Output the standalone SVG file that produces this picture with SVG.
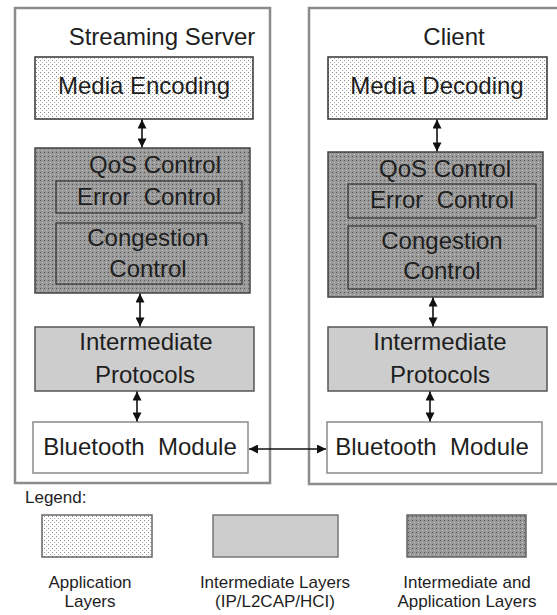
<svg xmlns="http://www.w3.org/2000/svg" width="557" height="615" viewBox="0 0 557 615">
<style>
.t{font-family:"Liberation Sans",Arial,sans-serif;fill:#1e1e1e;text-anchor:middle}
.big{font-size:24px}
.sm{font-size:17px}
.outer{fill:#fff;stroke:#8c8c8c;stroke-width:2.5}
.app{fill:url(#dotsLight);stroke:#333;stroke-width:1.5}
.qos{fill:url(#dotsDark);stroke:#444;stroke-width:1.5}
.inner{fill:none;stroke:#333;stroke-width:1.2}
.mid{fill:#cdcdcd;stroke:#555;stroke-width:1.5}
.bt{fill:#fff;stroke:#8a8a8a;stroke-width:1.5}
.con{stroke:#111;stroke-width:1.6;fill:none}
.v{marker-start:url(#ah);marker-end:url(#ah)}
</style>
<defs>
<pattern id="dotsLight" width="4" height="4" patternUnits="userSpaceOnUse">
<rect width="4" height="4" fill="#fff"/>
<rect x="0" y="0" width="1" height="1" fill="#888"/>
<rect x="2" y="2" width="1" height="1" fill="#aaa"/>
</pattern>
<pattern id="dotsDark" width="4" height="4" patternUnits="userSpaceOnUse">
<rect width="4" height="4" fill="#999"/>
<rect x="0" y="0" width="1" height="1" fill="#555"/>
<rect x="2" y="2" width="1" height="1" fill="#c4c4c4"/>
</pattern>
<marker id="ah" viewBox="0 0 10 10" refX="10" refY="5" markerWidth="10" markerHeight="9" markerUnits="userSpaceOnUse" orient="auto-start-reverse">
<path d="M0,0 L10,5 L0,10 z" fill="#111"/>
</marker>
</defs>

<g id="server">
<rect class="outer" x="15" y="8" width="255" height="475"/>
<text class="t big" x="162" y="45">Streaming Server</text>
</g>
<g id="client">
<rect class="outer" x="309" y="8" width="260" height="476"/>
<text class="t big" x="454" y="45">Client</text>
</g>

<g id="media-encoding">
<rect class="app" x="35" y="57" width="218" height="62"/>
<text class="t big" x="144" y="94">Media Encoding</text>
</g>
<g id="media-decoding">
<rect class="app" x="328" y="57" width="219" height="62"/>
<text class="t big" x="437" y="94">Media Decoding</text>
</g>

<g id="qos-server">
<rect class="qos" x="35" y="148" width="215" height="145"/>
<text class="t big" x="155" y="173">QoS Control</text>
</g>
<g id="error-server">
<rect class="inner" x="56" y="181" width="186" height="32"/>
<text class="t big" x="149" y="205" xml:space="preserve">Error  Control</text>
</g>
<g id="congestion-server">
<rect class="inner" x="56" y="223" width="186" height="61"/>
<text class="t big" x="148" y="246">Congestion</text>
<text class="t big" x="148" y="277">Control</text>
</g>

<g id="qos-client">
<rect class="qos" x="328" y="152" width="215" height="145"/>
<text class="t big" x="445" y="177">QoS Control</text>
</g>
<g id="error-client">
<rect class="inner" x="348" y="184" width="188" height="34"/>
<text class="t big" x="442" y="208" xml:space="preserve">Error  Control</text>
</g>
<g id="congestion-client">
<rect class="inner" x="348" y="226" width="188" height="63"/>
<text class="t big" x="442" y="249">Congestion</text>
<text class="t big" x="442" y="279">Control</text>
</g>

<g id="intermediate-server">
<rect class="mid" x="35" y="327" width="219" height="64"/>
<text class="t big" x="146" y="350">Intermediate</text>
<text class="t big" x="145" y="383">Protocols</text>
</g>
<g id="intermediate-client">
<rect class="mid" x="328" y="327" width="219" height="64"/>
<text class="t big" x="440" y="350">Intermediate</text>
<text class="t big" x="440" y="383">Protocols</text>
</g>

<g id="bluetooth-server">
<rect class="bt" x="33" y="422" width="215" height="51"/>
<text class="t big" x="140" y="455" xml:space="preserve">Bluetooth  Module</text>
</g>
<g id="bluetooth-client">
<rect class="bt" x="327" y="422" width="215" height="51"/>
<text class="t big" x="432" y="455" xml:space="preserve">Bluetooth  Module</text>
</g>

<g id="connectors">
<line class="con v" x1="142" y1="119.5" x2="142" y2="147.5"/>
<line class="con v" x1="437" y1="119.5" x2="437" y2="151.5"/>
<line class="con v" x1="140" y1="293.5" x2="140" y2="326.5"/>
<line class="con v" x1="433" y1="297.5" x2="433" y2="326.5"/>
<line class="con v" x1="137" y1="391.5" x2="137" y2="421.5"/>
<line class="con v" x1="430" y1="391.5" x2="430" y2="421.5"/>
<line class="con v" x1="249" y1="449" x2="326" y2="449"/>
</g>

<g id="legend">
<text class="t sm" x="25" y="503" style="text-anchor:start">Legend:</text>
<g id="legend-app">
<rect class="app" x="42" y="515" width="110" height="42" style="stroke:#666"/>
<text class="t sm" x="90" y="588">Application</text>
<text class="t sm" x="90" y="607">Layers</text>
</g>
<g id="legend-intermediate">
<rect class="mid" x="213" y="515" width="125" height="42" style="stroke:#777"/>
<text class="t sm" x="275" y="588">Intermediate Layers</text>
<text class="t sm" x="275" y="607">(IP/L2CAP/HCI)</text>
</g>
<g id="legend-both">
<rect class="qos" x="407" y="515" width="119" height="42" style="stroke:#666"/>
<text class="t sm" x="467" y="588">Intermediate and</text>
<text class="t sm" x="467" y="607">Application Layers</text>
</g>
</g>
</svg>
